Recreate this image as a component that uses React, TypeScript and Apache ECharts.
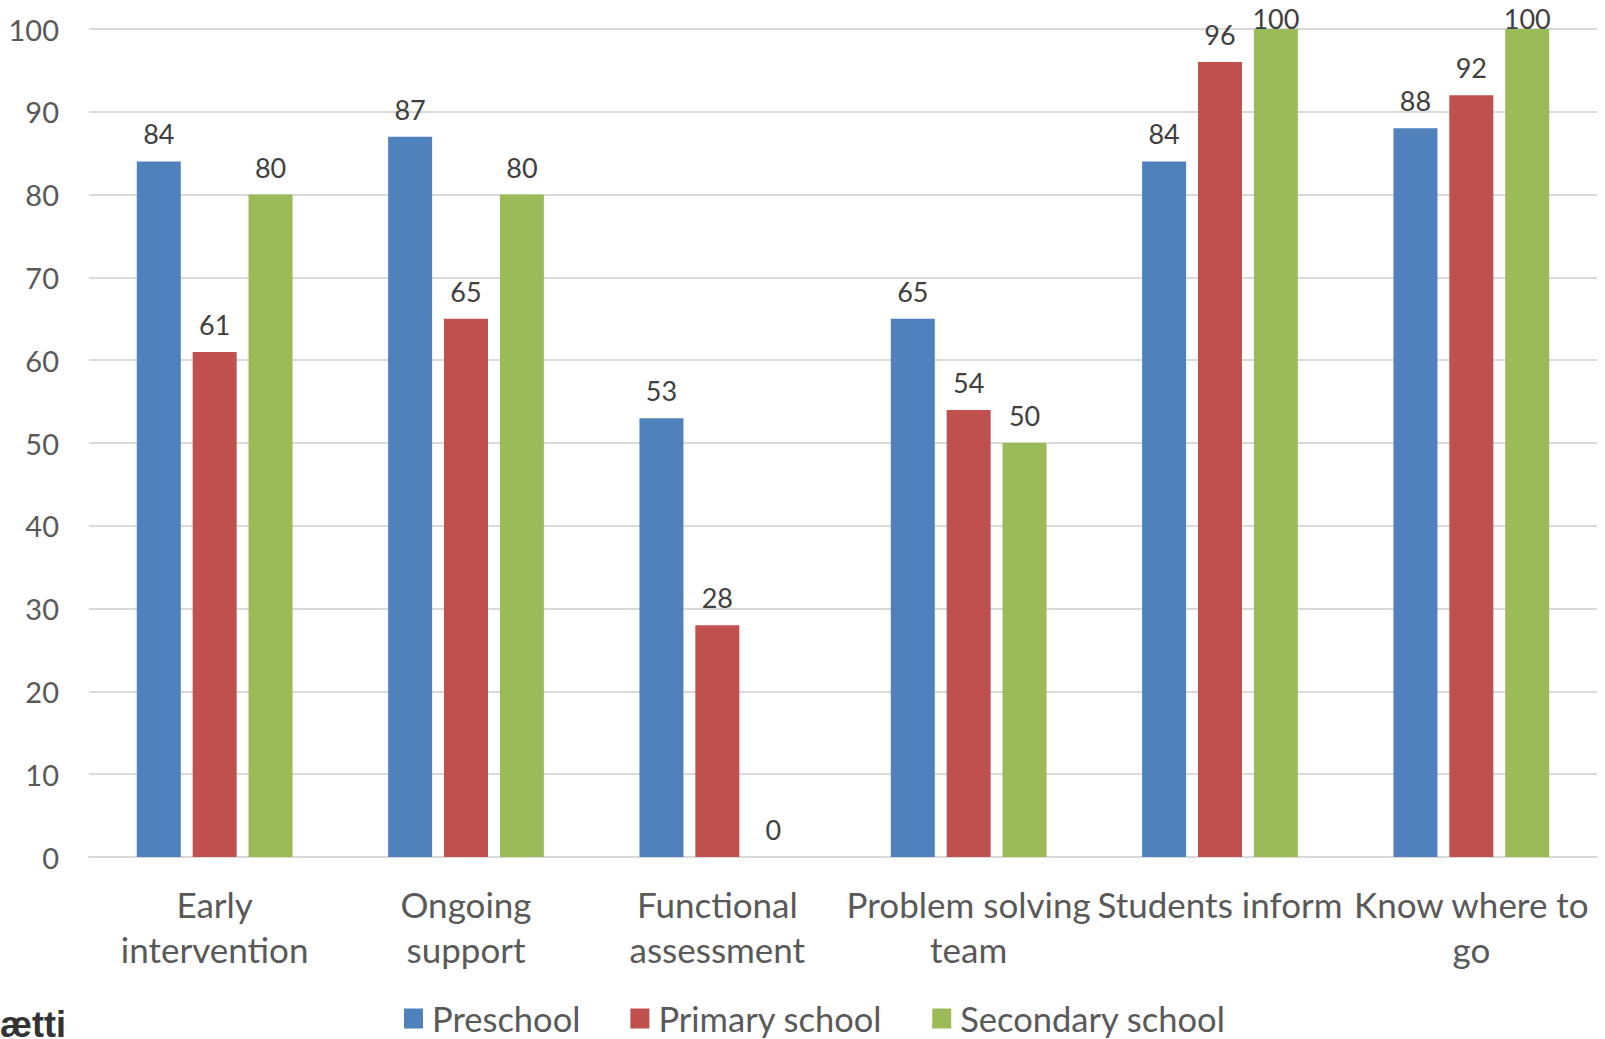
import React, { useEffect, useRef } from "react";
import * as echarts from "echarts";

const categories = [
  "Early\nintervention",
  "Ongoing\nsupport",
  "Functional\nassessment",
  "Problem solving\nteam",
  "Students inform",
  "Know where to\ngo",
];
const preschool = [84, 87, 53, 65, 84, 88];
const primarySchool = [61, 65, 28, 54, 96, 92];
const secondarySchool = [80, 80, 0, 50, 100, 100];
const seriesNames = ["Preschool", "Primary school", "Secondary school"];
const colors = ["#4F81BD", "#C0504D", "#9BBB59"];

const FONT = "Lato, 'Noto Sans', sans-serif";

export default function App() {
  const ref = useRef<HTMLDivElement>(null);
  useEffect(() => {
    document.body.style.margin = "0";
    const chart = echarts.init(ref.current!, null, { renderer: "svg" });
    const mk = (name: string, data: number[], color: string) => ({
      name,
      type: "bar",
      // labels of bars reaching the top of the plot are kept inside the page
      data: data.map((v) =>
        v >= 98 ? { value: v, label: { distance: -3 } } : v
      ),
      barWidth: 44,
      barGap: "27%",
      itemStyle: { color },
      label: {
        show: true,
        position: "top",
        distance: 14,
        color: "#404040",
        fontSize: 27,
        fontFamily: FONT,
      },
    });
    chart.setOption({
      animation: false,
      backgroundColor: "#ffffff",
      textStyle: { fontFamily: FONT },
      grid: { left: 89, right: 8, top: 29, bottom: 182, containLabel: false },
      xAxis: {
        type: "category",
        data: categories,
        axisLine: { lineStyle: { color: "#D9D9D9", width: 2 } },
        axisTick: { show: false },
        axisLabel: {
          color: "#595959",
          fontSize: 35,
          fontFamily: FONT,
          lineHeight: 45,
          margin: 24,
          interval: 0,
        },
      },
      yAxis: {
        type: "value",
        min: 0,
        max: 100,
        interval: 10,
        axisLine: { show: false },
        axisTick: { show: false },
        splitLine: { lineStyle: { color: "#D9D9D9", width: 2 } },
        axisLabel: {
          color: "#595959",
          fontSize: 29,
          fontFamily: FONT,
          margin: 30,
          padding: [0, 0, 3, 0],
        },
      },
      legend: {
        data: seriesNames,
        top: 996,
        left: 399,
        itemWidth: 19,
        itemHeight: 20,
        itemGap: 50,
        icon: "rect",
        textStyle: {
          color: "#595959",
          fontSize: 34.5,
          fontFamily: FONT,
          padding: [0, 0, 0, 4],
        },
      },
      graphic: [
        {
          type: "text",
          left: 0,
          top: 1006,
          style: {
            text: "ætti",
            fill: "#333333",
            font: "bold 36px 'Liberation Sans', Arial, sans-serif",
          },
        },
      ],
      series: [
        mk(seriesNames[0], preschool, colors[0]),
        mk(seriesNames[1], primarySchool, colors[1]),
        mk(seriesNames[2], secondarySchool, colors[2]),
      ],
    });
    return () => chart.dispose();
  }, []);
  return <div ref={ref} style={{ width: 1605, height: 1039 }} />;
}
